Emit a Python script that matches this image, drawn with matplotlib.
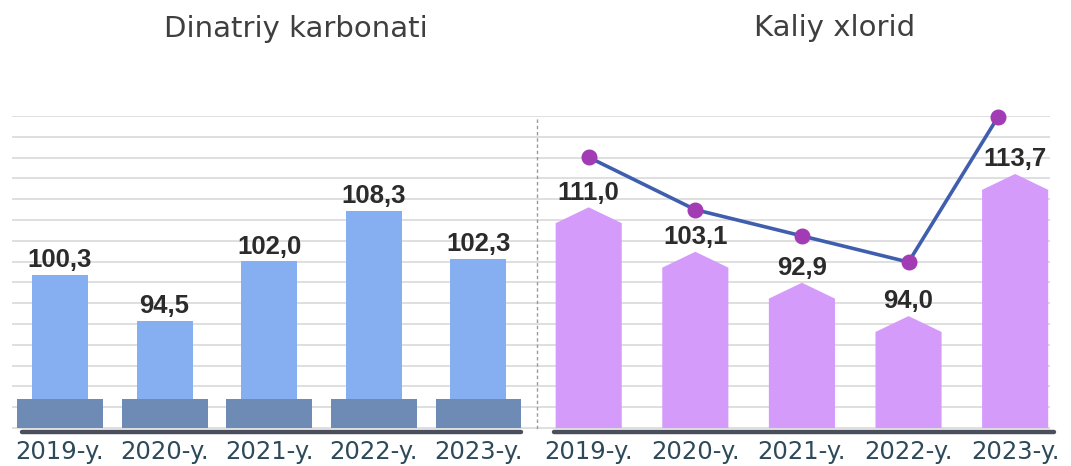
import numpy as np
import matplotlib
matplotlib.use('Agg')
import matplotlib.pyplot as plt
from matplotlib.patches import Polygon

years = ['2019-y.', '2020-y.', '2021-y.', '2022-y.', '2023-y.']

# Dinatriy karbonati - bar values
dinatriy = [100.3, 94.5, 102.0, 108.3, 102.3]

# Kaliy xlorid - printed values, pictogram heights and line points as drawn
kaliy = [111.0, 103.1, 92.9, 94.0, 113.7]
kaliy_bar = [106.8, 101.2, 97.3, 93.1, 111.0]
kaliy_line = [115.1, 108.5, 105.2, 101.9, 120.2]

BASE = 81.0          # bottom of bars
TOP = 120.3          # top gridline
BOX_H = 3.65         # dark base box height
PEAK = 2.0           # roof height of the pentagon bars

LABEL_FONT = ['Liberation Sans', 'DejaVu Sans']


def fmt(v):
    return f"{v:.1f}".replace('.', ',')


def style_axes(ax, xlim):
    ax.set_xlim(*xlim)
    ax.set_ylim(80.5, TOP)
    ax.set_yticks(np.linspace(BASE, TOP, 16))
    ax.yaxis.grid(True, color='#dcdcdc', linewidth=1.3)
    ax.set_axisbelow(True)
    ax.tick_params(axis='y', left=False, labelleft=False)
    ax.tick_params(axis='x', length=0, pad=6, labelsize=17.5, labelcolor='#2d4a5a')
    ax.set_xticks(range(len(years)))
    ax.set_xticklabels(years)
    for s in ['top', 'right', 'left']:
        ax.spines[s].set_visible(False)
    ax.spines['bottom'].set_color('#4b4e5c')
    ax.spines['bottom'].set_linewidth(3.2)
    ax.spines['bottom'].set_capstyle('round')
    ax.set_facecolor('none')


fig = plt.figure(figsize=(10.71, 4.66), dpi=100)

# left panel
ax1 = fig.add_axes([12 / 1071, 34 / 466, 525 / 1071, 316 / 466])
style_axes(ax1, (-0.459, 4.56))
ax1.spines['bottom'].set_bounds(-0.36, 4.41)
x = np.arange(len(years))
heights = [v - BASE for v in dinatriy]
ax1.bar(x, heights, bottom=BASE, width=0.535, color='#86aff2', zorder=2)
ax1.bar(x, BOX_H, bottom=BASE, width=0.82, color='#6e8bb6', zorder=3)
for xi, v in zip(x, dinatriy):
    ax1.annotate(fmt(v), xy=(xi, v), xytext=(0, 2), textcoords='offset points',
                 ha='center', va='bottom', fontsize=18.5, fontweight='bold',
                 color='#2b2b2b', family=LABEL_FONT, zorder=5)

# right panel
ax2 = fig.add_axes([537 / 1071, 34 / 466, 513 / 1071, 316 / 466])
style_axes(ax2, (-0.485, 4.327))
ax2.spines['bottom'].set_bounds(-0.325, 4.36)
ax2.spines['left'].set_visible(True)
ax2.spines['left'].set_linestyle((0, (1.5, 3)))
ax2.spines['left'].set_color('#9a9a9a')
ax2.spines['left'].set_linewidth(1.0)
ax2.spines['left'].set_bounds(BASE, TOP)

hw = 0.31
for xi, h in zip(x, kaliy_bar):
    pts = [(xi - hw, BASE), (xi - hw, h), (xi, h + PEAK), (xi + hw, h), (xi + hw, BASE)]
    ax2.add_patch(Polygon(pts, closed=True, facecolor='#d49bfb', edgecolor='none', zorder=2))

for xi, h, v in zip(x, kaliy_bar, kaliy):
    ax2.annotate(fmt(v), xy=(xi, h + PEAK), xytext=(0, 2), textcoords='offset points',
                 ha='center', va='bottom', fontsize=18.5, fontweight='bold',
                 color='#2b2b2b', family=LABEL_FONT, zorder=5)

# last marker sits a bit left of its bar in the original
line_x = x.astype(float)
line_x[-1] -= 0.16
ax2.plot(line_x, kaliy_line, color='#3f5fae', linewidth=2.6, zorder=4, clip_on=False)
ax2.plot(line_x, kaliy_line, 'o', color='#a13cb4', markersize=10.5, zorder=6, clip_on=False)

fig.text(296 / 1071, 1 - 29 / 466, 'Dinatriy karbonati', ha='center', va='center',
         fontsize=21, color='#3f3f3f')
fig.text(835 / 1071, 1 - 28 / 466, 'Kaliy xlorid', ha='center', va='center',
         fontsize=21, color='#3f3f3f')

fig.savefig('out.png', dpi=100)
